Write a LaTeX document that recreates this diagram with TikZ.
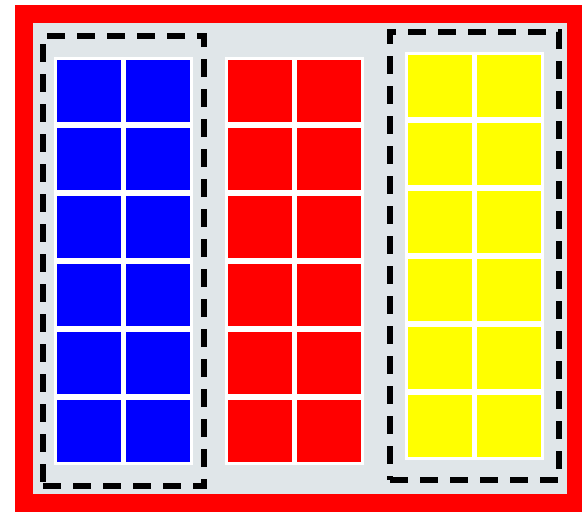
\documentclass[tikz,border=0pt]{standalone}
\usetikzlibrary{fit, backgrounds}
\definecolor{fundo}{RGB}{224,230,233}
\definecolor{azulpuro}{RGB}{0,0,255}
\definecolor{vermelhopuro}{RGB}{255,0,0}
\definecolor{amarelopuro}{RGB}{255,255,0}

\begin{document}
\begin{tikzpicture}[
        x=1pt, y=-1pt,
        celula/.style={fill=#1, minimum width=64pt, minimum height=62pt, inner sep=0pt, outer sep=0pt, anchor=north west},
        bloco/.style={fill=white, inner sep=3pt},
        faixa/.style={draw=black, dash pattern=on 18pt off 12pt, line width=5.5pt},
        moldura/.style={draw=vermelhopuro, line width=18pt}
    ]
        \useasboundingbox (0,0) rectangle (582,515);
        \draw[moldura] (24,14) rectangle (576,503);

        \foreach \nome/\cor/\x/\y in {azul/azulpuro/57/60, vermelho/vermelhopuro/228/60, amarelo/amarelopuro/408/55} {
            \foreach \i in {1,2} {
                \foreach \j in {1,...,6} {
                    \node[celula=\cor] (\nome-\i-\j) at ({\x+(\i-1)*69}, {\y+(\j-1)*68}) {};
                }
            }
        }

        \begin{scope}[on background layer]
            \fill[fundo] (24,14) rectangle (576,503);
            \node[bloco, fit=(azul-1-1)(azul-2-6)] (azul) {};
            \node[bloco, fit=(vermelho-1-1)(vermelho-2-6)] (vermelho) {};
            \node[bloco, fit=(amarelo-1-1)(amarelo-2-6)] (amarelo) {};
        \end{scope}

        \node[faixa, fit=(azul-1-1)(azul-2-6), inner xsep=14pt, inner ysep=24pt] (grupoazul) {};
        \node[faixa, fit=(amarelo-1-1)(amarelo-2-6), inner xsep=18pt, inner ysep=23pt] (grupoamarelo) {};
    \end{tikzpicture}
\end{document}
